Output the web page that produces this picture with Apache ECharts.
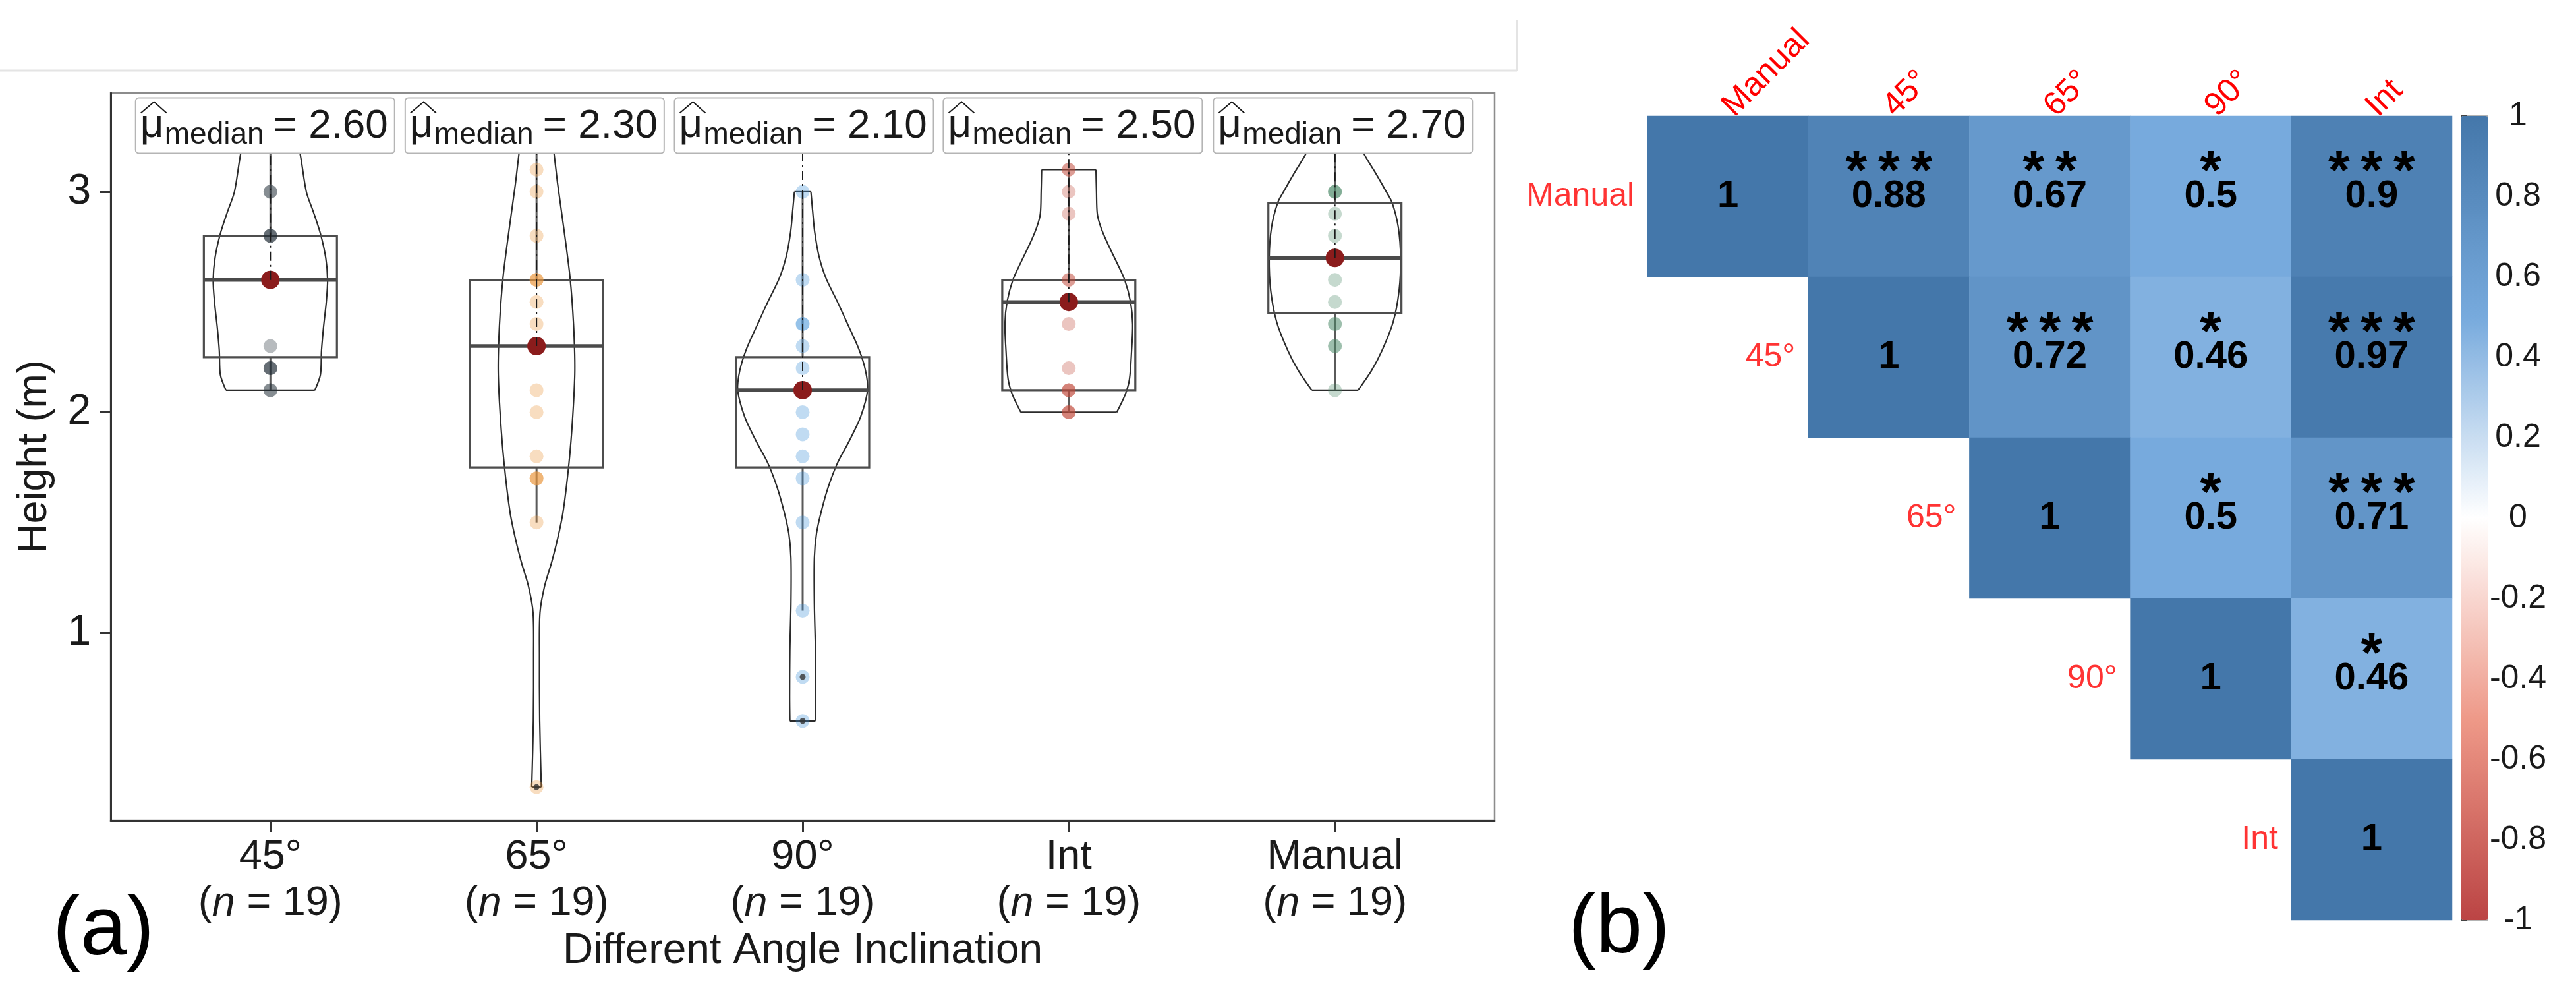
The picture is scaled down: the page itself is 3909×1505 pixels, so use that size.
<!DOCTYPE html>
<html><head><meta charset="utf-8">
<script src="https://cdn.jsdelivr.net/npm/echarts@6/dist/echarts.min.js"></script>
<style>html,body{margin:0;padding:0;background:#fff}#c{width:3909px;height:1505px}</style>
</head><body><div id="c"></div>
<script>
// ---------- Panel (a) data ----------
const categories = ['45°', '65°', '90°', 'Int', 'Manual'];
const sampleSizes = [19, 19, 19, 19, 19];
const heights45 = [2.1,2.1,2.2,2.2,2.2,2.3,2.6,2.6,2.6,2.6,2.6,2.6,2.6,2.8,2.8,2.8,3.0,3.0,3.3];
const heights65 = [0.3,1.5,1.7,1.7,1.7,1.8,2.0,2.1,2.3,2.3,2.4,2.5,2.6,2.6,2.6,2.8,3.0,3.1,3.3];
const heights90 = [0.6,0.8,1.1,1.5,1.7,1.8,1.9,2.0,2.1,2.1,2.1,2.1,2.1,2.2,2.3,2.4,2.4,2.6,3.0];
const heightsInt = [2.0,2.0,2.0,2.1,2.1,2.1,2.2,2.4,2.5,2.5,2.5,2.5,2.5,2.6,2.6,2.9,3.0,3.1,3.1];
const heightsManual = [2.1,2.3,2.3,2.4,2.4,2.5,2.6,2.7,2.7,2.7,2.7,2.7,2.8,2.9,3.0,3.0,3.0,3.2,3.3];
const boxQ1 = [2.25, 1.75, 1.75, 2.10, 2.45];
const boxMedian = [2.60, 2.30, 2.10, 2.50, 2.70];
const boxQ3 = [2.80, 2.60, 2.25, 2.60, 2.95];
const whiskerLow = [2.1, 1.5, 1.1, 2.0, 2.1];
const whiskerHigh = [3.3, 3.3, 3.0, 3.1, 3.3];
const outlierGroup = [1, 2, 2];
const outlierValues = [0.3, 0.6, 0.8];
// violin outlines: [height, half-width in category units]
const violin45 = [[2.10,0.167],[2.17,0.188],[2.28,0.192],[2.39,0.200],[2.50,0.210],[2.60,0.215],[2.70,0.208],[2.81,0.188],[2.91,0.161],[3.00,0.135],[3.17,0.112],[3.25,0.095],[3.30,0.085]];
const violin65 = [[0.30,0.018],[0.60,0.012],[0.90,0.011],[1.09,0.013],[1.21,0.030],[1.32,0.057],[1.43,0.080],[1.55,0.100],[1.77,0.122],[1.98,0.136],[2.19,0.144],[2.40,0.139],[2.61,0.126],[2.82,0.104],[3.03,0.080],[3.18,0.065],[3.30,0.050]];
const violin90 = [[0.60,0.048],[0.71,0.049],[0.92,0.048],[1.13,0.044],[1.34,0.044],[1.45,0.052],[1.55,0.070],[1.66,0.096],[1.77,0.131],[1.87,0.175],[1.98,0.218],[2.10,0.244],[2.19,0.236],[2.29,0.210],[2.40,0.169],[2.50,0.131],[2.61,0.087],[2.71,0.061],[2.82,0.045],[2.92,0.037],[3.00,0.031]];
const violinInt = [[2.00,0.180],[2.08,0.212],[2.15,0.228],[2.28,0.236],[2.40,0.240],[2.50,0.232],[2.60,0.210],[2.68,0.180],[2.77,0.144],[2.84,0.120],[2.90,0.107],[3.00,0.104],[3.10,0.102]];
const violinManual = [[2.10,0.087],[2.19,0.138],[2.28,0.177],[2.41,0.219],[2.55,0.241],[2.70,0.247],[2.84,0.238],[2.95,0.215],[3.00,0.193],[3.08,0.155],[3.17,0.110],[3.25,0.080],[3.30,0.060]];
const labelX = [-0.02, 0.993, 2.005, 3.015, 4.03];
const labelY = [3.30, 3.30, 3.30, 3.30, 3.30];
const medianText = ['2.60', '2.30', '2.10', '2.50', '2.70'];
const xTickValues = [0, 1, 2, 3, 4];
const yTickValues = [1, 2, 3];

// ---------- Panel (b) data ----------
const corrLabels = ['Manual', '45°', '65°', '90°', 'Int'];
const corrRowManual = [1, 0.88, 0.67, 0.5, 0.9];
const corrRow45 = [null, 1, 0.72, 0.46, 0.97];
const corrRow65 = [null, null, 1, 0.5, 0.71];
const corrRow90 = [null, null, null, 1, 0.46];
const corrRowInt = [null, null, null, null, 1];
const sigRowManual = ['', '***', '**', '*', '***'];
const sigRow45 = ['', '', '***', '*', '***'];
const sigRow65 = ['', '', '', '*', '***'];
const sigRow90 = ['', '', '', '', '*'];
const sigRowInt = ['', '', '', '', ''];
const corrPalette = ['#BB4444', '#EE9988', '#FFFFFF', '#77AADD', '#4477AA'];

// ---------- build ----------
const FONT = '"Liberation Sans", Arial, sans-serif';
const groupValues = [heights45, heights65, heights90, heightsInt, heightsManual];
const violins = [violin45, violin65, violin90, violinInt, violinManual];
const groupColors = ['#1e2b35', '#e8943a', '#3a8fd6', '#c04b3c', '#4a8a68'];
const corrMatrix = [corrRowManual, corrRow45, corrRow65, corrRow90, corrRowInt];
const sigMatrix = [sigRowManual, sigRow45, sigRow65, sigRow90, sigRowInt];

function renderViolin(params, api) {
  const i = params.dataIndex;
  const ol = violins[i];
  const L = [], R = [];
  ol.forEach(function (p) { L.push(api.coord([i - p[1], p[0]])); R.push(api.coord([i + p[1], p[0]])); });
  const n = ol.length;
  const st = { stroke: '#2b2b2b', lineWidth: 2.2, fill: null };
  return { type: 'group', children: [
    { type: 'polyline', shape: { points: L, smooth: 0.3 }, style: st },
    { type: 'polyline', shape: { points: R, smooth: 0.3 }, style: st },
    { type: 'line', shape: { x1: L[0][0], y1: L[0][1], x2: R[0][0], y2: R[0][1] }, style: st },
    { type: 'line', shape: { x1: L[n-1][0], y1: L[n-1][1], x2: R[n-1][0], y2: R[n-1][1] }, style: st }
  ]};
}
function renderBox(params, api) {
  const i = params.dataIndex;
  const tl = api.coord([i - 0.25, boxQ3[i]]), br = api.coord([i + 0.25, boxQ1[i]]);
  const m1 = api.coord([i - 0.25, boxMedian[i]]), m2 = api.coord([i + 0.25, boxMedian[i]]);
  const a1 = api.coord([i, boxQ3[i]]), a2 = api.coord([i, whiskerHigh[i]]);
  const b1 = api.coord([i, boxQ1[i]]), b2 = api.coord([i, whiskerLow[i]]);
  const ws = { stroke: '#5a5a5a', lineWidth: 3 };
  return { type: 'group', children: [
    { type: 'line', shape: { x1: a1[0], y1: a1[1], x2: a2[0], y2: a2[1] }, style: ws },
    { type: 'line', shape: { x1: b1[0], y1: b1[1], x2: b2[0], y2: b2[1] }, style: ws },
    { type: 'rect', shape: { x: tl[0], y: tl[1], width: br[0] - tl[0], height: br[1] - tl[1] }, style: { fill: null, stroke: '#4d4d4d', lineWidth: 3.2 } },
    { type: 'line', shape: { x1: m1[0], y1: m1[1], x2: m2[0], y2: m2[1] }, style: { stroke: '#4a4a4a', lineWidth: 5.5 } }
  ]};
}
function renderLabel(params, api) {
  const i = params.dataIndex;
  const c = api.coord([labelX[i], labelY[i]]);
  const W = 393, H = 84;
  const L = c[0] - W / 2, T = c[1] - H / 2;
  const m = api.coord([i, boxMedian[i]]);
  const tx = { fill: '#1a1a1a', fontFamily: FONT, align: 'left', verticalAlign: 'middle' };
  return { type: 'group', children: [
    { type: 'line', shape: { x1: m[0], y1: m[1], x2: m[0], y2: T + H }, style: { stroke: '#1a1a1a', lineWidth: 2, lineDash: [14, 6, 3, 6] } },
    { type: 'rect', shape: { x: L, y: T, width: W, height: H, r: 5 }, style: { fill: '#fff', stroke: '#b5b5b5', lineWidth: 2 } },
    { type: 'polyline', shape: { points: [[L + 8, T + 23], [L + 28, T + 6], [L + 47, T + 23]] }, style: { stroke: '#1a1a1a', lineWidth: 2, fill: null } },
    { type: 'text', x: L + 7, y: T + 42, style: Object.assign({ text: 'μ', fontSize: 62 }, tx) },
    { type: 'text', x: L + 44, y: T + 57, style: Object.assign({ text: 'median', fontSize: 46 }, tx) },
    { type: 'text', x: L + 209, y: T + 43, style: Object.assign({ text: '= ' + medianText[i], fontSize: 62 }, tx) }
  ]};
}

const series = [];
const idx = categories.map(function (c, i) { return [i, boxMedian[i]]; });
series.push({ type: 'custom', xAxisIndex: 0, yAxisIndex: 0, renderItem: renderViolin, data: idx, z: 1, silent: true });
series.push({ type: 'custom', xAxisIndex: 0, yAxisIndex: 0, renderItem: renderBox, data: idx, z: 2, silent: true });
groupValues.forEach(function (vals, g) {
  series.push({ type: 'scatter', xAxisIndex: 0, yAxisIndex: 0, z: 3, symbolSize: 21,
    itemStyle: { color: groupColors[g], opacity: 0.32 },
    data: vals.map(function (v) { return [g, v]; }) });
});
series.push({ type: 'scatter', xAxisIndex: 0, yAxisIndex: 0, z: 4, symbolSize: 9,
  itemStyle: { color: '#333', opacity: 0.8 },
  data: outlierValues.map(function (v, k) { return [outlierGroup[k], v]; }) });
series.push({ type: 'scatter', xAxisIndex: 0, yAxisIndex: 0, z: 5, symbolSize: 28,
  itemStyle: { color: '#8B1C1C', opacity: 1 }, data: idx });
series.push({ type: 'custom', xAxisIndex: 0, yAxisIndex: 0, renderItem: renderLabel, data: idx, z: 6, silent: true });

// heatmap
const heatData = [];
corrMatrix.forEach(function (row, r) {
  row.forEach(function (v, c) { if (v !== null) heatData.push([c, r, v, sigMatrix[r][c]]); });
});
const heatIndex = series.length;
series.push({ type: 'heatmap', xAxisIndex: 1, yAxisIndex: 1, data: heatData,
  emphasis: { disabled: true },
  label: { show: true, color: '#000',
    formatter: function (p) {
      const s = p.data[3], v = String(p.data[2]);
      return s ? '{s|' + s.split('').join('\u2009') + '}\n{v|' + v + '}\n{e| }' : '{v|' + v + '}';
    },
    rich: {
      s: { fontSize: 84, fontWeight: 'bold', lineHeight: 10, color: '#000', fontFamily: FONT },
      v: { fontSize: 58, fontWeight: 'bold', lineHeight: 58, color: '#000', fontFamily: FONT },
      e: { fontSize: 10, lineHeight: 10 }
    } } });
series.push({ type: 'scatter', xAxisIndex: 1, yAxisIndex: 1, symbol: 'rect', symbolSize: [244, 244],
  itemStyle: { color: 'rgba(0,0,0,0)' }, silent: true, z: 5,
  data: corrLabels.map(function (l, i) { return [i, i]; }),
  label: { show: true, position: 'left', distance: 20, color: '#FF0000', fontSize: 50, fontFamily: FONT,
    formatter: function (p) { return corrLabels[p.dataIndex]; } } });

const axisText = { color: '#1a1a1a', fontFamily: FONT };
const option = {
  animation: false,
  backgroundColor: '#fff',
  textStyle: { fontFamily: FONT },
  grid: [
    { left: 168, top: 141, width: 2100, height: 1104, show: true, borderColor: '#8c8c8c', borderWidth: 2.5, backgroundColor: 'rgba(0,0,0,0)' },
    { left: 2500, top: 176, width: 1221, height: 1220 },
    { left: 3735, top: 176, width: 40, height: 1220, show: true, borderColor: '#9a9a9a', borderWidth: 1.5, backgroundColor: 'rgba(0,0,0,0)' }
  ],
  xAxis: [
    { type: 'value', gridIndex: 0, min: -0.6, max: 4.6,
      axisLine: { show: true, onZero: false, lineStyle: { color: '#333', width: 3 } },
      axisTick: { show: true, customValues: xTickValues, length: 17, lineStyle: { color: '#333', width: 3 } },
      axisLabel: { customValues: xTickValues, margin: 21, fontSize: 63, lineHeight: 70, color: '#1a1a1a', fontFamily: FONT,
        formatter: function (v) { const i = Math.round(v); return '{a|' + categories[i] + '}\n{b|(}{n|n}{b| = ' + sampleSizes[i] + ')}'; },
        rich: {
          a: Object.assign({ fontSize: 63, lineHeight: 70 }, axisText),
          b: Object.assign({ fontSize: 63, lineHeight: 70 }, axisText),
          n: Object.assign({ fontSize: 63, lineHeight: 70, fontStyle: 'italic' }, axisText)
        } },
      splitLine: { show: false },
      name: 'Different Angle Inclination', nameLocation: 'middle', nameGap: 166,
      nameTextStyle: Object.assign({ fontSize: 64 }, axisText) },
    { type: 'category', gridIndex: 1, position: 'top', data: corrLabels,
      axisLine: { show: false }, axisTick: { show: false }, splitLine: { show: false },
      axisLabel: { interval: 0, rotate: -45, margin: 7, color: '#FF0000', fontSize: 50, fontFamily: FONT } },
    { type: 'value', gridIndex: 2, show: false, min: 0, max: 1 }
  ],
  yAxis: [
    { type: 'value', gridIndex: 0, min: 0.148, max: 3.448,
      axisLine: { show: true, onZero: false, lineStyle: { color: '#333', width: 3 } },
      axisTick: { show: true, customValues: yTickValues, length: 17, lineStyle: { color: '#333', width: 3 } },
      axisLabel: Object.assign({ customValues: yTickValues, fontSize: 64, margin: 30 }, axisText),
      splitLine: { show: false },
      name: 'Height (m)', nameLocation: 'middle', nameGap: 84,
      nameTextStyle: Object.assign({ fontSize: 63 }, axisText) },
    { type: 'category', gridIndex: 1, inverse: true, data: corrLabels,
      axisLine: { show: false }, axisTick: { show: false }, axisLabel: { show: false }, splitLine: { show: false } },
    { type: 'value', gridIndex: 2, position: 'right', min: -1, max: 1, interval: 0.2,
      axisLine: { show: false }, splitLine: { show: false },
      axisTick: { show: true, length: 9, lineStyle: { color: '#444', width: 2 } },
      axisLabel: { margin: 46, align: 'center', fontSize: 50, color: '#1a1a1a', fontFamily: FONT } }
  ],
  visualMap: [{
    type: 'continuous', min: -1, max: 1, dimension: 2, seriesIndex: heatIndex,
    inRange: { color: corrPalette }, orient: 'vertical', left: 3735, top: 176,
    itemWidth: 40, itemHeight: 1220, calculable: false, padding: 0, showLabel: false
  }],
  graphic: [
    { type: 'line', shape: { x1: 0, y1: 107, x2: 2302, y2: 107 }, style: { stroke: '#e4e4e4', lineWidth: 3 }, silent: true },
    { type: 'line', shape: { x1: 2302, y1: 31, x2: 2302, y2: 107 }, style: { stroke: '#e4e4e4', lineWidth: 3 }, silent: true },
    { type: 'text', x: 157, y: 1413, style: { text: '(a)', fontSize: 126, fill: '#000', fontFamily: FONT, align: 'center', verticalAlign: 'middle' } },
    { type: 'text', x: 2457, y: 1410, style: { text: '(b)', fontSize: 126, fill: '#000', fontFamily: FONT, align: 'center', verticalAlign: 'middle' } }
  ],
  series: series
};
const chart = echarts.init(document.getElementById('c'));
chart.setOption(option);
</script>
</body></html>
